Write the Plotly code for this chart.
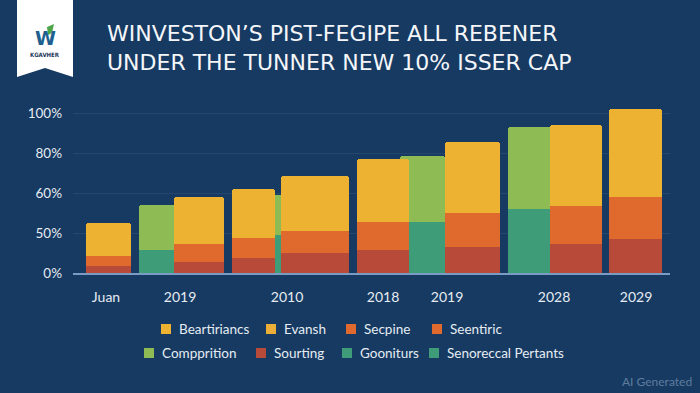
import plotly.graph_objects as go

# ---------------- data ----------------
tick_labels = ["Juan", "2019", "2010", "2018", "2019", "2028", "2029"]
y_tick_labels = ["0%", "50%", "60%", "80%", "100%"]
y_tick_vals = [0, 25, 50, 75, 100]

sourting = [4.7, 7.2, 9.1, 12.4, 14.2, 16.0, 17.9, 21.1]
secpine = [5.7, 10.7, 12.6, 13.8, 17.6, 21.4, 23.9, 26.4]
beartiriancs = [20.7, 29.6, 30.8, 34.6, 39.7, 44.8, 51.0, 55.3]
gooniturs = [14.2, 23.7, 31.8, 39.9]
compprition = [28.3, 25.2, 41.6, 51.7]

legend_row1 = ["Beartiriancs", "Evansh", "Secpine", "Seentiric"]
legend_row2 = ["Compprition", "Sourting", "Gooniturs", "Senoreccal Pertants"]

title_lines = ["WINVESTON\u2019S PIST-FEGIPE ALL REBENER",
               "UNDER THE TUNNER NEW 10% ISSER CAP"]

# ---------------- layout / style ----------------
W, H = 700, 393
ML, MR, MT, MB = 73, 30, 105, 120
PW, PH = W - ML - MR, H - MT - MB
X0, X1 = 73, 670            # slot-unit range of the x axis
YMAX = 105.3

stack_x = [108.5, 199, 253.5, 315, 383, 472.5, 576, 635.5]
stack_w = [45, 50, 43, 68, 52, 55, 52, 53]
pair_x = [157.5, 278, 422.5, 531.5]
pair_w = [37, 10, 45, 47]
tick_x = [106, 180, 287, 383, 447, 554, 636]

BG = "#163a62"
YELLOW = "#edb232"
ORANGE = "#e0692e"
RED = "#b84a39"
GREEN = "#8ebb53"
TEAL = "#3f9c79"
TXT = "#e6ecf2"
FONT = "Lato"

row1_colors = [YELLOW, "#ebae38", ORANGE, ORANGE]
row2_colors = [GREEN, RED, TEAL, TEAL]
row1_sq = [161, 266, 346, 432]
row2_sq = [144, 256, 342, 429]
row1_y, row2_y = 329, 353


def px(xp):
    return (xp - ML) / PW


def py(yp):
    return (H - MB - yp) / PH


fig = go.Figure()

# pair bars (drawn first, partly behind neighbours)
fig.add_trace(go.Bar(x=pair_x, y=gooniturs, width=pair_w, name="Gooniturs",
                     marker=dict(color=TEAL, line=dict(width=0))))
fig.add_trace(go.Bar(x=pair_x, y=compprition, width=pair_w, name="Compprition",
                     marker=dict(color=GREEN, line=dict(width=0))))
# stacked bars
fig.add_trace(go.Bar(x=stack_x, y=sourting, width=stack_w, name="Sourting",
                     marker=dict(color=RED, line=dict(width=0))))
fig.add_trace(go.Bar(x=stack_x, y=secpine, width=stack_w, name="Secpine",
                     marker=dict(color=ORANGE, line=dict(width=0))))
fig.add_trace(go.Bar(x=stack_x, y=beartiriancs, width=stack_w, name="Beartiriancs",
                     marker=dict(color=YELLOW, line=dict(width=0))))

shapes = []
annotations = []

# title (two lines in one text block)
annotations.append(dict(x=px(105), y=py(47.5), xref="paper", yref="paper",
                        text="<br>".join(title_lines), showarrow=False,
                        xanchor="left", yanchor="middle", align="left",
                        font=dict(family="DejaVu Sans", size=22, color="#f4f6f9")))

# logo ribbon
pts = [(17, 0), (73, 0), (73, 77), (45, 68), (17, 77)]
path = "M " + " L ".join(f"{px(a):.5f},{py(b):.5f}" for a, b in pts) + " Z"
shapes.append(dict(type="path", path=path, xref="paper", yref="paper",
                   fillcolor="#ffffff", line=dict(width=0)))
# small green leaf accent of the logo
leaf = [(47, 27), (54, 24), (52, 33), (48, 35)]
lpath = "M " + " L ".join(f"{px(a):.5f},{py(b):.5f}" for a, b in leaf) + " Z"
shapes.append(dict(type="path", path=lpath, xref="paper", yref="paper",
                   fillcolor="#4fa64a", line=dict(width=0)))
annotations.append(dict(x=px(45), y=py(38), xref="paper", yref="paper", text="<b>W</b>",
                        showarrow=False, xanchor="center", yanchor="middle",
                        font=dict(family="DejaVu Sans", size=19, color="#1d5f8f")))
annotations.append(dict(x=px(45), y=py(55), xref="paper", yref="paper", text="<b>KGAVHER</b>",
                        showarrow=False, xanchor="center", yanchor="middle",
                        font=dict(family="DejaVu Sans Condensed", size=6, color="#1d3a5c")))

# legend (manual, two rows)
for names, cols, sqs, yy in [(legend_row1, row1_colors, row1_sq, row1_y),
                             (legend_row2, row2_colors, row2_sq, row2_y)]:
    for n, c, s in zip(names, cols, sqs):
        shapes.append(dict(type="rect", xref="paper", yref="paper",
                           x0=px(s), x1=px(s + 10), y0=py(yy + 5), y1=py(yy - 5),
                           fillcolor=c, line=dict(width=0)))
        annotations.append(dict(x=px(s + 16), y=py(yy), xref="paper", yref="paper", text=n,
                                showarrow=False, xanchor="left", yanchor="middle",
                                font=dict(family=FONT, size=13.5, color=TXT)))

# watermark
annotations.append(dict(x=px(694), y=py(381), xref="paper", yref="paper", text="AI Generated",
                        showarrow=False, xanchor="right", yanchor="middle",
                        font=dict(family=FONT, size=12, color="#5f7c9d")))

fig.update_layout(
    width=W, height=H,
    margin=dict(l=ML, r=MR, t=MT, b=MB, pad=0),
    paper_bgcolor=BG, plot_bgcolor=BG,
    barmode="stack", bargap=0, barcornerradius=3,
    showlegend=False,
    font=dict(family=FONT, color=TXT),
    shapes=shapes, annotations=annotations,
    xaxis=dict(range=[X0, X1], tickvals=tick_x, ticktext=tick_labels,
               showgrid=False, zeroline=False, showline=True, linecolor="#7a9cc4", linewidth=1.5,
               ticks="", ticklabelstandoff=10, tickfont=dict(family=FONT, size=14, color=TXT),
               fixedrange=True),
    yaxis=dict(range=[0, YMAX], tickvals=y_tick_vals, ticktext=y_tick_labels,
               showgrid=True, gridcolor="rgba(255,255,255,0.07)", gridwidth=1,
               zeroline=False, showline=False, ticks="", ticklabelstandoff=10,
               tickfont=dict(family=FONT, size=13.5, color=TXT), fixedrange=True),
)

fig.write_html("out.html", config={"displayModeBar": False},
               post_script="document.body.style.margin='0';document.body.style.background='%s';" % BG)
